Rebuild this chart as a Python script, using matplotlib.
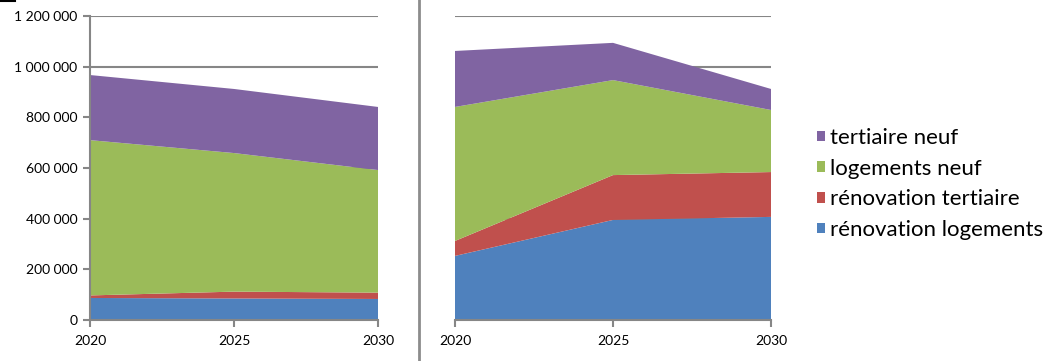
import matplotlib
matplotlib.use("Agg")
import matplotlib.pyplot as plt
from matplotlib.lines import Line2D
from matplotlib.patches import Patch

plt.rcParams['font.family'] = ['Lato', 'DejaVu Sans']

years = [2020, 2025, 2030]
labels = ["rénovation logements", "rénovation tertiaire", "logements neuf", "tertiaire neuf"]
colors = ["#4F81BD", "#C0504D", "#9BBB59", "#8064A2"]

# left chart
left_reno_log = [87000, 85000, 83000]
left_reno_ter = [10000, 27000, 25000]
left_log_neuf = [613000, 547000, 484000]
left_ter_neuf = [257000, 253000, 249000]

# right chart
right_reno_log = [253000, 395000, 407000]
right_reno_ter = [59000, 177000, 177000]
right_log_neuf = [529000, 375000, 245000]
right_ter_neuf = [221000, 147000, 83000]

yticks = [0, 200000, 400000, 600000, 800000, 1000000, 1200000]
grid_col = "#868686"

fig = plt.figure(figsize=(10.53, 3.61), dpi=100)
ax1 = fig.add_axes([90/1053, 1-320/361, 288/1053, 304/361])
ax2 = fig.add_axes([455/1053, 1-320/361, 316/1053, 304/361])


def style(ax, show_labels):
    ax.set_xlim(2020, 2030)
    ax.set_ylim(0, 1200000)
    ax.set_yticks(yticks)
    ax.set_xticks(years)
    ax.set_xticklabels([str(y) for y in years], fontsize=10)
    if show_labels:
        ax.set_yticklabels([f"{v:,}".replace(",", " ") for v in yticks], fontsize=10)
        ax.tick_params(axis='y', length=5, color=grid_col, width=1.5, pad=4)
        ax.spines['left'].set_color(grid_col)
        ax.spines['left'].set_linewidth(1.5)
    else:
        ax.set_yticklabels([])
        ax.tick_params(axis='y', length=0)
        ax.spines['left'].set_visible(False)
    ax.tick_params(axis='x', length=5, color=grid_col, width=1.5, pad=6)
    ax.spines['bottom'].set_color(grid_col)
    ax.spines['bottom'].set_linewidth(1.5)
    ax.spines['top'].set_visible(False)
    ax.spines['right'].set_visible(False)
    ax.set_axisbelow(True)
    ax.grid(axis='y', color=grid_col, linewidth=1.5)
    ax.set_facecolor('none')


ax1.stackplot(years, left_reno_log, left_reno_ter, left_log_neuf, left_ter_neuf,
              colors=colors, linewidth=0)
ax2.stackplot(years, right_reno_log, right_reno_ter, right_log_neuf, right_ter_neuf,
              colors=colors, linewidth=0)
style(ax1, True)
style(ax2, False)

# divider between the two charts
fig.add_artist(Line2D([419/1053, 419/1053], [0, 1], color="#8c8c8c", linewidth=2))
fig.add_artist(Line2D([0, 15/1053], [1-1/361, 1-1/361], color="black", linewidth=1.5))

handles = [Patch(facecolor=c, edgecolor='none') for c in colors]
leg = fig.legend(handles[::-1], labels[::-1], loc='upper left',
                 bbox_to_anchor=(797/1053, 1-108/361), frameon=False,
                 fontsize=16, handlelength=0.36, handleheight=0.36,
                 handletextpad=0.22, labelspacing=0.48)

fig.savefig("out.png", dpi=100)
